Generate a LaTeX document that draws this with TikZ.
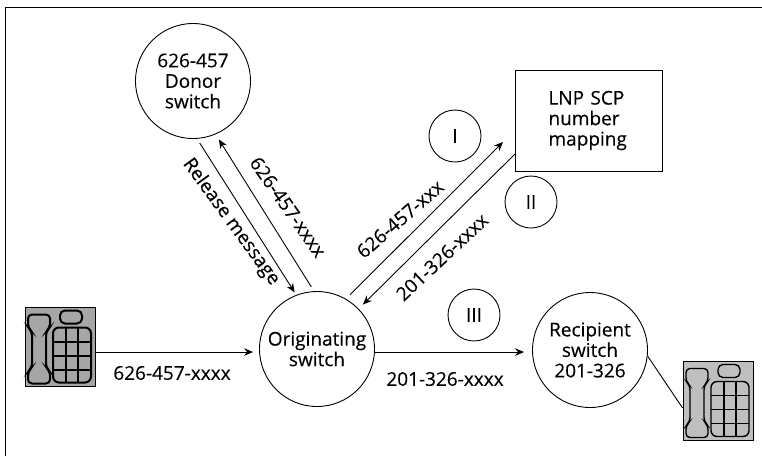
\documentclass[tikz,border=0pt]{standalone}
\usepackage{fontspec}
\setmainfont[FakeBold=0.25]{Open Sans}
\usepackage{xcolor}
\usetikzlibrary{arrows.meta, positioning}

\begin{document}
\begin{tikzpicture}[
    x=1pt, y=-1pt,
    every node/.style={font=\fontsize{19}{20.5}\selectfont, inner sep=0pt},
    switch/.style={draw, circle, line width=0.9pt, minimum size=115pt, align=center},
    step mark/.style={draw, circle, line width=0.9pt, minimum size=52pt},
    mapbox/.style={draw, line width=0.9pt, minimum width=147pt, minimum height=101pt, align=left},
    phonebox/.style={draw, line width=1pt, minimum width=70pt, minimum height=79pt},
    link/.style={-{Stealth[length=9pt, width=7.5pt]}, line width=0.9pt},
    wire/.style={line width=0.9pt},
    pics/phone/.style 2 args={code={
        \begin{scope}[shift={(-35,-39.5)}, draw=black, fill=#1, line width=#2]
        \draw[rounded corners=4pt] (3,7) -- (25,7) -- (25,20) -- (21,24) -- (21,60) -- (25,64) -- (25,76) -- (3,76) -- (3,64) -- (7,60) -- (7,24) -- (3,20) -- cycle;
        \draw[rounded corners=5pt] (35,3) rectangle (57,16);
        \draw[rounded corners=6pt] (28,20) rectangle (66,75);
        \foreach \col in {41,53} {\draw (\col,20) -- (\col,75);}
        \foreach \row in {34,48,62} {\draw (28,\row) -- (66,\row);}
        \end{scope}
    }},
]
\useasboundingbox (0,0) rectangle (762,456);

% === Frame (top and left only) ===
\coordinate (framebl) at (5,456);
\coordinate (frametl) at (5,7);
\coordinate (frametr) at (762,7);
\draw[line width=0.9pt] (framebl) -- (frametl) -- (frametr);

% === Switches ===
\node[switch] (donor) at (193,81) {626-457\\Donor\\switch};
\node[switch] (orig) at (317,349) {Originating\\switch};
\node[switch] (recip) at (590,350) {Recipient\\switch\\201-326};

% === LNP database ===
\node[mapbox, text width=80pt, align=left] (lnp) at (588.5,120.5) {LNP SCP\\number\\mapping};
\coordinate (lnpin) at (503,142);
\coordinate (lnpout) at (515,154);

% === Telephones ===
\node[phonebox, fill=gray!70] (phonea) at (60,347) {};
\pic at (phonea) {phone={gray!55}{2pt}};
\node[phonebox, fill=gray!50] (phoneb) at (718,401) {};
\pic at (phoneb) {phone={gray!35}{1.4pt}};

% === Step marks ===
\node[step mark] (stepi) at (455,136) {I};
\node[step mark] (stepii) at (531,202) {II};
\node[step mark] (stepiii) at (474,315) {III};

% === Connectors ===
\draw[link, shorten >=6pt] (phonea.east |- orig.183) -- (orig.183);
\draw[link, shorten >=8pt] (orig.-3) -- (orig.-3 -| recip.west);
\draw[link, shorten <=5pt, shorten >=6pt] (orig.93) -- (donor.-67);
\draw[link, shorten <=5pt, shorten >=3pt] (donor.-86) -- (orig.111);
\draw[link, shorten <=6pt] (orig.60) -- (lnpin);
\draw[link, shorten >=6pt] (lnpout) -- (orig.44);
\draw[wire] (recip.-6) -- (phoneb.191);

% === Labels ===
\node (numa) at (172,373) {626-457-xxxx};
\node (numb) at (445,379) {201-326-xxxx};
\node[rotate=-54] (release) at (231,222) {Release message};
\node[rotate=-55] (numc) at (288,207) {626-457-xxxx};
\node[rotate=41] (numd) at (400,219) {626-457-xxx};
\node[rotate=43] (nume) at (442,257) {201-326-xxxx};

\end{tikzpicture}
\end{document}
